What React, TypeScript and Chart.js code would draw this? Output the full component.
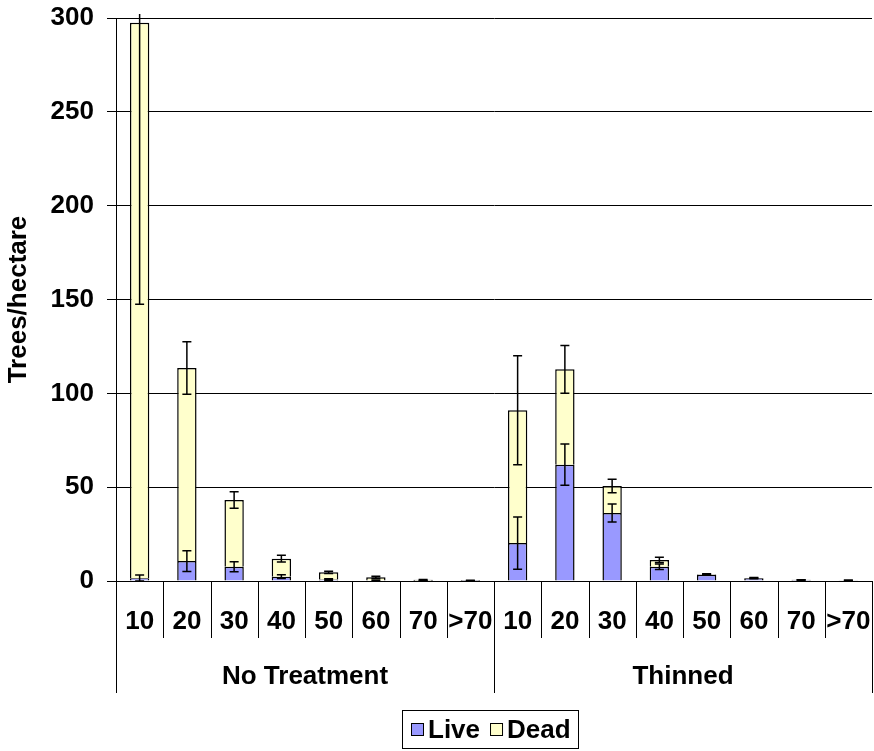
import React, { useEffect, useRef } from "react";
import { Chart, registerables } from "chart.js";

Chart.register(...registerables);

// ---- data ----
const sizeClasses = ["10", "20", "30", "40", "50", "60", "70", ">70"];
const treatments = ["No Treatment", "Thinned"];

const noTreatmentLive = [1.5, 10.6, 7.6, 2.3, 0.8, 0.3, 0.1, 0.05];
const noTreatmentDead = [296, 102.9, 35.6, 9.6, 3.8, 1.7, 0.5, 0.25];
const thinnedLive = [20.2, 62, 36.2, 7.6, 3.3, 1.4, 0.5, 0.3];
const thinnedDead = [70.8, 50.8, 14.4, 3.6, 0.3, 0.2, 0.1, 0.05];

const noTreatmentLiveErr = [1.7, 5.5, 2.7, 1.0, 0.4, 0.2, 0.1, 0.05];
const noTreatmentTotalErr = [150, 14, 4.4, 1.8, 0.6, 0.5, 0.2, 0.1];
const thinnedLiveErr = [13.9, 11, 4.8, 1.5, 0.3, 0.2, 0.1, 0.1];
const thinnedTotalErr = [29, 12.7, 3.6, 1.4, 0.3, 0.2, 0.1, 0.1];

const yMin = 0;
const yMax = 300;
const yStep = 50;

const seriesNames = ["Live", "Dead"];
const seriesColors = ["#9999FF", "#FFFFCC"];
const yTitle = "Trees/hectare";

const FONT = '"Liberation Sans", Arial, sans-serif';

export default function App() {
  const canvasRef = useRef<HTMLCanvasElement | null>(null);

  useEffect(() => {
    document.body.style.margin = "0";
    const canvas = canvasRef.current;
    if (!canvas) return;

    const labels = treatments.flatMap(() => sizeClasses);
    const live = [...noTreatmentLive, ...thinnedLive];
    const dead = [...noTreatmentDead, ...thinnedDead];
    const liveErr = [...noTreatmentLiveErr, ...thinnedLiveErr];
    const totalErr = [...noTreatmentTotalErr, ...thinnedTotalErr];

    const errorBars = {
      id: "errorBars",
      afterDatasetsDraw(chart: any) {
        const { ctx, chartArea } = chart;
        const y = chart.scales.y;
        const meta = chart.getDatasetMeta(0);
        ctx.save();
        ctx.beginPath();
        ctx.rect(chartArea.left, chartArea.top - 4, chartArea.right - chartArea.left, chartArea.bottom - chartArea.top + 4);
        ctx.clip();
        ctx.strokeStyle = "#000";
        ctx.lineWidth = 1.5;
        const cap = 4.5;
        const draw = (x: number, v: number, e: number) => {
          const yHi = y.getPixelForValue(v + e);
          const yLo = y.getPixelForValue(Math.max(v - e, 0));
          ctx.beginPath();
          ctx.moveTo(x, yHi);
          ctx.lineTo(x, yLo);
          ctx.moveTo(x - cap, yHi);
          ctx.lineTo(x + cap, yHi);
          ctx.moveTo(x - cap, yLo);
          ctx.lineTo(x + cap, yLo);
          ctx.stroke();
        };
        meta.data.forEach((bar: any, i: number) => {
          const x = bar.x;
          draw(x, live[i], liveErr[i]);
          draw(x, live[i] + dead[i], totalErr[i]);
        });
        ctx.restore();
      },
    };

    const axisLabels = {
      id: "axisLabels",
      afterDraw(chart: any) {
        const { ctx, chartArea } = chart;
        const xs = chart.scales.x;
        const n = labels.length;
        const bottom = chartArea.bottom;
        const boundary = (i: number) => {
          if (i === 0) return chartArea.left;
          if (i === n) return chartArea.right;
          return (xs.getPixelForValue(i - 1) + xs.getPixelForValue(i)) / 2;
        };
        ctx.save();
        ctx.strokeStyle = "#000";
        ctx.lineWidth = 1;
        for (let i = 0; i <= n; i++) {
          const bx = Math.round(boundary(i)) + 0.5;
          const long = i % sizeClasses.length === 0;
          ctx.beginPath();
          ctx.moveTo(bx, bottom);
          ctx.lineTo(bx, long ? 693 : 638);
          ctx.stroke();
        }
        ctx.fillStyle = "#000";
        ctx.textAlign = "center";
        ctx.textBaseline = "middle";
        ctx.font = `bold 26px ${FONT}`;
        labels.forEach((lab, i) => {
          ctx.fillText(lab, xs.getPixelForValue(i), 622);
        });
        treatments.forEach((t, g) => {
          const x0 = boundary(g * sizeClasses.length);
          const x1 = boundary((g + 1) * sizeClasses.length);
          ctx.fillText(t, (x0 + x1) / 2, 677);
        });

        // legend
        ctx.font = `bold 26px ${FONT}`;
        ctx.textAlign = "left";
        const sq = 13;
        const gapSq = 4;
        const gapItem = 10;
        const pad = 8;
        const widths = seriesNames.map((s) => ctx.measureText(s).width);
        const contentW = widths.reduce((a, w) => a + sq + gapSq + w, 0) + gapItem;
        const bw = Math.round(pad * 2 + contentW);
        const bh = 38;
        const bx = Math.round(490 - bw / 2) + 0.5;
        const by = 710.5;
        ctx.lineWidth = 1;
        ctx.strokeStyle = "#000";
        ctx.strokeRect(bx, by, bw, bh);
        const cy = by + bh / 2;
        let cx = Math.round(bx + pad);
        seriesNames.forEach((name, k) => {
          const sy = Math.round(cy - sq / 2);
          ctx.fillStyle = seriesColors[k];
          ctx.fillRect(cx, sy, sq, sq);
          ctx.strokeStyle = "#000";
          ctx.strokeRect(cx + 0.5, sy + 0.5, sq - 1, sq - 1);
          ctx.fillStyle = "#000";
          ctx.fillText(name, cx + sq + gapSq, cy + 1);
          cx += sq + gapSq + widths[k] + gapItem;
        });
        ctx.restore();
      },
    };

    const chart = new Chart(canvas, {
      type: "bar",
      data: {
        labels,
        datasets: [
          {
            label: seriesNames[0],
            data: live,
            backgroundColor: seriesColors[0],
            borderColor: "#000",
            borderWidth: 1.5,
            barPercentage: 0.41,
            categoryPercentage: 1,
          },
          {
            label: seriesNames[1],
            data: dead,
            backgroundColor: seriesColors[1],
            borderColor: "#000",
            borderWidth: 1.5,
            barPercentage: 0.41,
            categoryPercentage: 1,
          },
        ],
      },
      options: {
        responsive: false,
        animation: false,
        devicePixelRatio: 1,
        layout: { padding: { top: 18, right: 2, left: 0, bottom: 0 } },
        plugins: {
          legend: { display: false },
          tooltip: { enabled: false },
        },
        scales: {
          x: {
            stacked: true,
            ticks: { display: false },
            grid: { display: false, drawTicks: false },
            border: { display: true, color: "#000", width: 1 },
            afterFit: (s: any) => {
              s.height = 170;
              s.paddingLeft = 0;
              s.paddingRight = 0;
            },
          },
          y: {
            stacked: true,
            min: yMin,
            max: yMax,
            ticks: {
              stepSize: yStep,
              color: "#000",
              padding: 13,
              font: { family: FONT, size: 26, weight: "bold" },
            },
            grid: { color: "#000", lineWidth: 1, tickLength: 9, tickColor: "#000" },
            border: { display: true, color: "#000", width: 1 },
            title: {
              display: true,
              text: yTitle,
              color: "#000",
              font: { family: FONT, size: 26, weight: "bold" },
              padding: { top: 3, bottom: 4 },
            },
            afterFit: (s: any) => {
              s.width = 116;
              s.paddingTop = 0;
              s.paddingBottom = 0;
            },
          },
        },
      },
      plugins: [errorBars, axisLabels],
    });
    return () => chart.destroy();
  }, []);

  return (
    <div style={{ width: 874, height: 751, background: "#fff" }}>
      <canvas ref={canvasRef} width={874} height={751} />
    </div>
  );
}
